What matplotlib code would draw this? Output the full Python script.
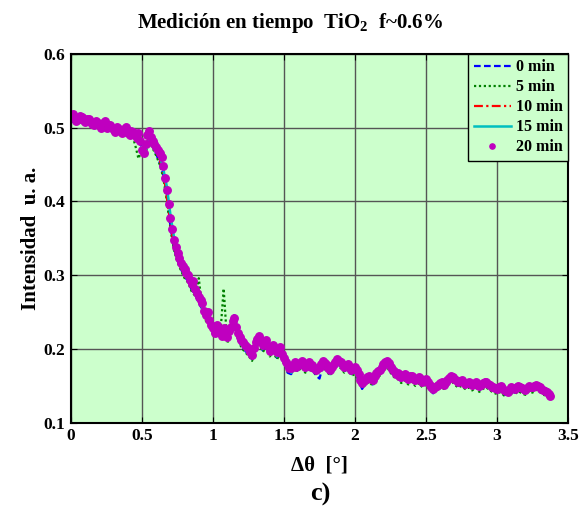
import numpy as np
import matplotlib
matplotlib.use("Agg")
import matplotlib.pyplot as plt

plt.rcParams['font.family'] = ['Liberation Serif', 'DejaVu Serif']
plt.rcParams['font.weight'] = 'bold'
plt.rcParams['mathtext.fontset'] = 'custom'
plt.rcParams['mathtext.rm'] = 'Liberation Serif:bold'
plt.rcParams['mathtext.bf'] = 'Liberation Serif:bold'

# angle offset grid (degrees), step 0.025 for the line series
theta = np.linspace(0.0, 3.375, 136)
# finer grid (step 0.0125) for the 20 min point series
theta_fine = np.linspace(0.0, 3.375, 271)

int_0min = [
    0.510, 0.506, 0.509, 0.507, 0.506, 0.508, 0.503, 0.506, 0.500, 0.503,
    0.497, 0.501, 0.494, 0.498, 0.492, 0.495, 0.490, 0.493, 0.484, 0.480,
    0.474, 0.470, 0.486, 0.474, 0.464, 0.452, 0.436, 0.410, 0.366, 0.336,
    0.320, 0.308, 0.298, 0.292, 0.280, 0.274, 0.262, 0.254, 0.250, 0.236,
    0.222, 0.226, 0.218, 0.222, 0.210, 0.226, 0.246, 0.216, 0.204, 0.198,
    0.193, 0.186, 0.202, 0.210, 0.198, 0.204, 0.192, 0.198, 0.188, 0.196,
    0.182, 0.168, 0.166, 0.174, 0.170, 0.178, 0.170, 0.176, 0.172, 0.164,
    0.160, 0.178, 0.172, 0.166, 0.174, 0.180, 0.176, 0.170, 0.174, 0.166,
    0.168, 0.158, 0.146, 0.154, 0.158, 0.152, 0.162, 0.166, 0.174, 0.178,
    0.170, 0.164, 0.162, 0.156, 0.160, 0.154, 0.158, 0.152, 0.156, 0.150,
    0.154, 0.146, 0.140, 0.146, 0.150, 0.146, 0.152, 0.160, 0.154, 0.150,
    0.152, 0.148, 0.150, 0.146, 0.150, 0.144, 0.148, 0.150, 0.146, 0.143,
    0.141, 0.144, 0.138, 0.140, 0.143, 0.141, 0.145, 0.142, 0.140, 0.145,
    0.143, 0.147, 0.144, 0.139, 0.138, 0.133]

int_5min = [
    0.508, 0.510, 0.506, 0.508, 0.505, 0.507, 0.502, 0.505, 0.499, 0.502,
    0.496, 0.500, 0.493, 0.497, 0.491, 0.494, 0.489, 0.492, 0.478, 0.458,
    0.470, 0.466, 0.482, 0.472, 0.462, 0.450, 0.432, 0.400, 0.364, 0.334,
    0.318, 0.306, 0.296, 0.290, 0.278, 0.272, 0.296, 0.252, 0.238, 0.232,
    0.220, 0.224, 0.216, 0.282, 0.208, 0.222, 0.232, 0.214, 0.202, 0.196,
    0.191, 0.184, 0.200, 0.208, 0.196, 0.202, 0.190, 0.196, 0.186, 0.194,
    0.180, 0.170, 0.168, 0.172, 0.170, 0.176, 0.168, 0.174, 0.170, 0.166,
    0.170, 0.176, 0.170, 0.164, 0.172, 0.178, 0.174, 0.168, 0.172, 0.164,
    0.166, 0.156, 0.148, 0.152, 0.156, 0.150, 0.160, 0.164, 0.172, 0.176,
    0.168, 0.162, 0.160, 0.154, 0.158, 0.152, 0.156, 0.150, 0.154, 0.148,
    0.152, 0.144, 0.142, 0.144, 0.148, 0.146, 0.150, 0.158, 0.152, 0.148,
    0.150, 0.146, 0.148, 0.144, 0.148, 0.142, 0.146, 0.148, 0.144, 0.141,
    0.139, 0.142, 0.137, 0.138, 0.141, 0.139, 0.143, 0.140, 0.138, 0.143,
    0.141, 0.145, 0.142, 0.138, 0.137, 0.132]

int_10min = [
    0.514, 0.515, 0.509, 0.512, 0.507, 0.509, 0.504, 0.507, 0.501, 0.504,
    0.498, 0.502, 0.495, 0.499, 0.493, 0.496, 0.491, 0.494, 0.485, 0.482,
    0.476, 0.472, 0.488, 0.476, 0.468, 0.456, 0.440, 0.405, 0.370, 0.340,
    0.322, 0.310, 0.300, 0.294, 0.282, 0.276, 0.264, 0.256, 0.240, 0.234,
    0.226, 0.230, 0.222, 0.226, 0.214, 0.228, 0.238, 0.220, 0.208, 0.203,
    0.197, 0.190, 0.206, 0.214, 0.203, 0.209, 0.196, 0.202, 0.193, 0.200,
    0.186, 0.176, 0.172, 0.179, 0.176, 0.182, 0.174, 0.180, 0.176, 0.170,
    0.174, 0.182, 0.176, 0.170, 0.178, 0.188, 0.180, 0.174, 0.178, 0.170,
    0.174, 0.164, 0.152, 0.158, 0.162, 0.156, 0.166, 0.170, 0.178, 0.182,
    0.174, 0.168, 0.166, 0.160, 0.164, 0.158, 0.162, 0.156, 0.160, 0.154,
    0.158, 0.150, 0.145, 0.148, 0.152, 0.150, 0.156, 0.162, 0.158, 0.154,
    0.156, 0.151, 0.154, 0.150, 0.153, 0.148, 0.152, 0.154, 0.149, 0.146,
    0.144, 0.148, 0.143, 0.141, 0.146, 0.144, 0.148, 0.145, 0.143, 0.148,
    0.146, 0.150, 0.147, 0.142, 0.140, 0.134]

int_15min = [
    0.512, 0.510, 0.508, 0.510, 0.505, 0.507, 0.502, 0.505, 0.499, 0.502,
    0.496, 0.500, 0.493, 0.497, 0.491, 0.494, 0.489, 0.492, 0.487, 0.488,
    0.480, 0.468, 0.485, 0.478, 0.470, 0.462, 0.444, 0.420, 0.382, 0.352,
    0.334, 0.318, 0.310, 0.296, 0.284, 0.276, 0.266, 0.256, 0.242, 0.236,
    0.224, 0.228, 0.220, 0.222, 0.212, 0.226, 0.236, 0.218, 0.206, 0.200,
    0.195, 0.188, 0.204, 0.212, 0.200, 0.206, 0.194, 0.200, 0.190, 0.198,
    0.184, 0.174, 0.168, 0.176, 0.174, 0.180, 0.172, 0.178, 0.174, 0.168,
    0.172, 0.180, 0.174, 0.166, 0.176, 0.182, 0.178, 0.172, 0.176, 0.168,
    0.170, 0.160, 0.150, 0.156, 0.160, 0.154, 0.164, 0.168, 0.176, 0.180,
    0.172, 0.166, 0.164, 0.158, 0.162, 0.156, 0.160, 0.154, 0.158, 0.152,
    0.156, 0.148, 0.144, 0.146, 0.150, 0.148, 0.154, 0.160, 0.156, 0.152,
    0.154, 0.150, 0.152, 0.148, 0.152, 0.146, 0.150, 0.152, 0.148, 0.145,
    0.143, 0.146, 0.142, 0.140, 0.145, 0.143, 0.147, 0.144, 0.142, 0.147,
    0.145, 0.149, 0.146, 0.141, 0.140, 0.134]

int_20min = [
    0.516, 0.518, 0.513, 0.509, 0.511, 0.516, 0.514, 0.510, 0.508, 0.512,
    0.511, 0.507, 0.505, 0.503, 0.509, 0.506, 0.503, 0.500, 0.506, 0.509,
    0.500, 0.503, 0.504, 0.499, 0.497, 0.494, 0.501, 0.498, 0.495, 0.492,
    0.498, 0.501, 0.493, 0.490, 0.496, 0.494, 0.490, 0.486, 0.493, 0.482,
    0.470, 0.466, 0.478, 0.490, 0.495, 0.487, 0.482, 0.478, 0.474, 0.470,
    0.466, 0.460, 0.448, 0.432, 0.415, 0.396, 0.378, 0.362, 0.348, 0.338,
    0.330, 0.324, 0.316, 0.312, 0.308, 0.303, 0.300, 0.294, 0.288, 0.292,
    0.282, 0.276, 0.270, 0.266, 0.262, 0.252, 0.246, 0.250, 0.240, 0.232,
    0.228, 0.222, 0.232, 0.226, 0.224, 0.218, 0.228, 0.220, 0.216, 0.224,
    0.230, 0.238, 0.242, 0.230, 0.222, 0.216, 0.212, 0.209, 0.206, 0.203,
    0.200, 0.196, 0.192, 0.202, 0.210, 0.214, 0.218, 0.212, 0.206, 0.208,
    0.212, 0.204, 0.198, 0.202, 0.205, 0.200, 0.196, 0.200, 0.203, 0.194,
    0.188, 0.182, 0.178, 0.174, 0.175, 0.179, 0.182, 0.176, 0.178, 0.181,
    0.184, 0.180, 0.176, 0.179, 0.182, 0.176, 0.178, 0.175, 0.172, 0.174,
    0.176, 0.180, 0.184, 0.181, 0.178, 0.174, 0.172, 0.176, 0.180, 0.183,
    0.186, 0.184, 0.182, 0.178, 0.176, 0.178, 0.180, 0.176, 0.172, 0.174,
    0.176, 0.171, 0.166, 0.158, 0.154, 0.157, 0.160, 0.162, 0.164, 0.160,
    0.158, 0.163, 0.168, 0.170, 0.172, 0.176, 0.180, 0.182, 0.184, 0.181,
    0.176, 0.173, 0.170, 0.166, 0.168, 0.164, 0.162, 0.165, 0.166, 0.162,
    0.160, 0.163, 0.164, 0.160, 0.158, 0.160, 0.162, 0.159, 0.156, 0.158,
    0.160, 0.156, 0.152, 0.148, 0.146, 0.148, 0.150, 0.152, 0.154, 0.155,
    0.152, 0.155, 0.158, 0.161, 0.164, 0.162, 0.160, 0.158, 0.156, 0.157,
    0.158, 0.155, 0.153, 0.154, 0.156, 0.154, 0.152, 0.153, 0.155, 0.152,
    0.150, 0.152, 0.154, 0.156, 0.156, 0.153, 0.151, 0.149, 0.148, 0.147,
    0.146, 0.148, 0.150, 0.147, 0.145, 0.143, 0.142, 0.145, 0.148, 0.147,
    0.146, 0.148, 0.150, 0.148, 0.147, 0.146, 0.145, 0.147, 0.150, 0.149,
    0.148, 0.150, 0.152, 0.150, 0.149, 0.146, 0.144, 0.143, 0.142, 0.139,
    0.136]

labels = ['0 min', '5 min', '10 min', '15 min', '20 min']
xticks = [0, 0.5, 1, 1.5, 2, 2.5, 3, 3.5]
yticks = [0.1, 0.2, 0.3, 0.4, 0.5, 0.6]

fig = plt.figure(figsize=(5.82, 5.12), dpi=100)
ax = fig.add_axes([0.122, 0.174, 0.854, 0.721])
ax.set_facecolor('#ccffcc')

ax.plot(theta, int_0min, color='#0000ff', ls=(0, (3, 1.5)), lw=1.6, label=labels[0])
ax.plot(theta, int_5min, color='#008000', ls=(0, (1, 1.2)), lw=1.6, label=labels[1])
ax.plot(theta, int_10min, color='#ff0000', ls=(0, (4, 1.5, 1, 1.5)), lw=1.6, label=labels[2])
ax.plot(theta, int_15min, color='#00bfbf', ls='-', lw=1.8, label=labels[3])
ax.plot(theta_fine, int_20min, color='#bf00bf', ls='none', marker='o', ms=5.4,
        mec='#bf00bf', label=labels[4])

ax.set_xlim(0, 3.5)
ax.set_ylim(0.1, 0.6)
ax.set_xticks(xticks)
ax.set_xticklabels(['0', '0.5', '1', '1.5', '2', '2.5', '3', '3.5'])
ax.set_yticks(yticks)
ax.set_yticklabels(['0.1', '0.2', '0.3', '0.4', '0.5', '0.6'])
ax.tick_params(direction='in', length=4, width=0.8, labelsize=12.5,
               top=True, right=True, pad=4)
for lab in ax.get_xticklabels() + ax.get_yticklabels():
    lab.set_fontweight('bold')
ax.grid(True, color='#555555', lw=1.0, ls='-')
ax.set_axisbelow(True)
for sp in ax.spines.values():
    sp.set_linewidth(1.5)

fig.text(0.498, 0.955, 'Medición en tiempo  TiO$_2$  f~0.6%', fontsize=15,
         fontweight='bold', ha='center', va='center')
ax.set_xlabel('Δθ  [°]', fontsize=15, fontweight='bold', labelpad=8)
ax.set_ylabel('Intensidad  u. a.', fontsize=15, fontweight='bold', labelpad=2)
fig.text(0.55, 0.035, 'c)', fontsize=19, fontweight='bold', ha='center', va='center')

leg = ax.legend(loc='upper right', borderaxespad=0, fancybox=False, framealpha=1,
                facecolor='#ccffcc', edgecolor='black', prop={'weight': 'bold', 'size': 11.5},
                handlelength=2.3, handletextpad=0.3, labelspacing=0.25, borderpad=0.35,
                markerscale=0.7)
leg.get_frame().set_linewidth(1.0)

fig.savefig('out.png', dpi=100)
